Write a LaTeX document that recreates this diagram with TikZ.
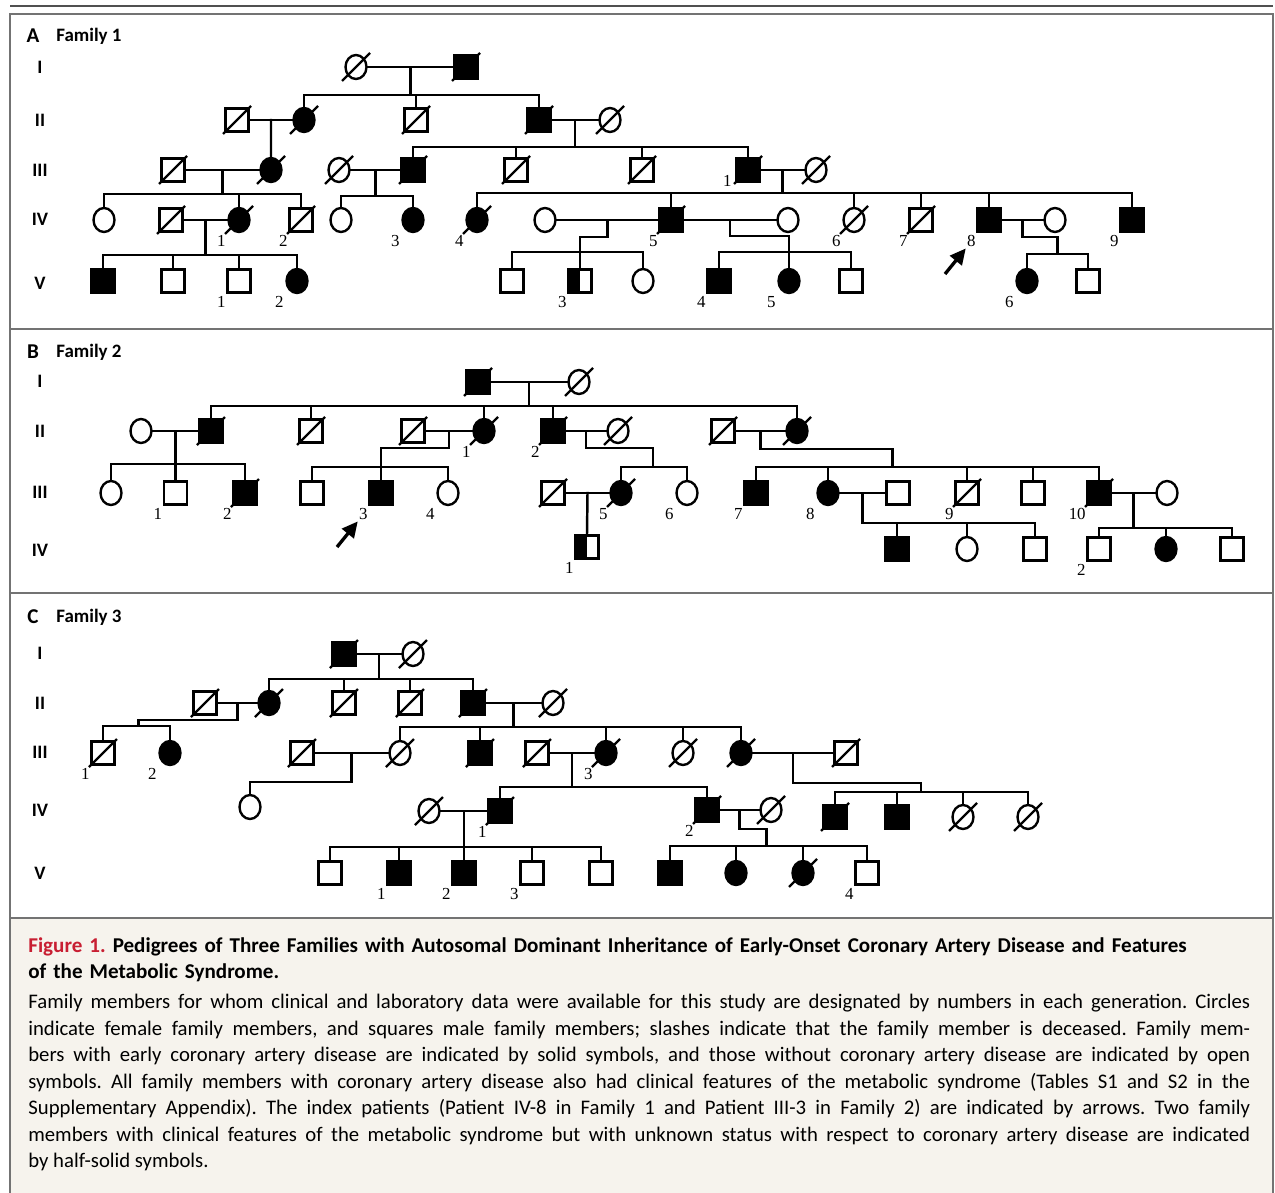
\documentclass[tikz,border=0pt]{standalone}
\usepackage{fontspec}
\setmainfont{Carlito}
\newfontfamily\numfont{Liberation Serif}
\usetikzlibrary{shapes.geometric, arrows.meta, calc}
\definecolor{figred}{RGB}{200, 30, 50}
\definecolor{capbg}{RGB}{246, 243, 237}
\definecolor{framegray}{RGB}{115, 115, 115}
\definecolor{rulegray}{RGB}{80, 80, 80}

\tikzset{
  person/.style={draw=black, line width=1.35pt, inner sep=0pt, fill=white},
  sq/.style={person, rectangle, minimum size=4.6mm},
  ci/.style={person, ellipse, minimum width=4.2mm, minimum height=4.8mm},
  aff/.style={fill=black},
  half/.style={path picture={\fill[black] (path picture bounding box.south west) rectangle (path picture bounding box.north);}},
  slash/.style={draw=black, line width=1.35pt},
  dec/.style={append after command={([shift={(-14,14)}]\tikzlastnode.center) edge[slash] ([shift={(14,-14)}]\tikzlastnode.center)}},
  link/.style={line width=1.4pt, line cap=rect},
  num/.style={font=\numfont\fontsize{9.6}{10}\selectfont, anchor=north east, inner sep=0pt},
  gen/.style={font=\bfseries\fontsize{10.8}{12}\selectfont, inner sep=0pt},
  panel/.style={font=\bfseries\fontsize{12}{13}\selectfont, inner sep=0pt},
  famname/.style={font=\bfseries\fontsize{10.8}{12}\selectfont, anchor=west, inner sep=0pt},
  panelframe/.style={draw=framegray, line width=1.1pt},
  pointer/.style={-{Triangle[length=9pt, width=8.5pt]}, line width=1.9pt, shorten >=1pt},
}

\begin{document}
\begin{tikzpicture}[x=0.02cm, y=-0.02cm]
\useasboundingbox (0,0) rectangle (1275,1193);

% frames
\draw[rulegray, line width=1.6pt] (10,6) -- (1273,6);
\draw[panelframe] (10,14) rectangle (1273,329);
\draw[panelframe] (10,329) rectangle (1273,593);
\draw[panelframe] (10,593) rectangle (1273,918);
\fill[capbg] (10,918) rectangle (1273,1193);
\draw[panelframe] (10,1193) -- (10,918) -- (1273,918) -- (1273,1193);

%%%%%%%%%%%%%%%% A  Family 1
\node[panel] (aTag) at (33,36) {A};
\node[famname] (aName) at (56,36) {Family 1};
\foreach \g/\y in {I/67,II/120,III/170,IV/219,V/283}
  \node[gen] (aG\g) at (40,\y) {\g};

% generation I
\node[ci,dec] (aI1) at (356,67) {};
\node[sq,aff,dec] (aI2) at (466,67) {};
% generation II
\node[sq,dec] (aII1) at (237,120) {};
\node[ci,aff,dec] (aII2) at (304,120) {};
\node[sq,dec] (aII3) at (416,120) {};
\node[sq,aff,dec] (aII4) at (539,120) {};
\node[ci,dec] (aII5) at (610,120) {};
% generation III
\node[sq,dec] (aIII1) at (173,170) {};
\node[ci,aff,dec] (aIII2) at (271,170) {};
\node[ci,dec] (aIII3) at (339,170) {};
\node[sq,aff,dec] (aIII4) at (413,170) {};
\node[sq,dec] (aIII5) at (516,170) {};
\node[sq,dec] (aIII6) at (642,170) {};
\node[sq,aff,dec] (aIII7) at (748,170) {};
\node[ci,dec] (aIII8) at (816,170) {};
% generation IV
\node[ci] (aIV1) at (104,220) {};
\node[sq,dec] (aIV2) at (171,220) {};
\node[ci,aff,dec] (aIV3) at (239,220) {};
\node[sq,dec] (aIV4) at (301,220) {};
\node[ci] (aIV5) at (341,220) {};
\node[ci,aff] (aIV6) at (413,220) {};
\node[ci,aff,dec] (aIV7) at (477,220) {};
\node[ci] (aIV8) at (545,220) {};
\node[sq,aff,dec] (aIV9) at (671,220) {};
\node[ci] (aIV10) at (788,220) {};
\node[ci,dec] (aIV11) at (854,220) {};
\node[sq,dec] (aIV12) at (921,220) {};
\node[sq,aff] (aIV13) at (989,220) {};
\node[ci] (aIV14) at (1055,220) {};
\node[sq,aff] (aIV15) at (1132,220) {};
% generation V
\node[sq,aff] (aV1) at (103,281) {};
\node[sq] (aV2) at (173,281) {};
\node[sq] (aV3) at (239,281) {};
\node[ci,aff] (aV4) at (297,281) {};
\node[sq] (aV5) at (512,281) {};
\node[sq,half] (aV6) at (580,281) {};
\node[ci] (aV7) at (643,281) {};
\node[sq,aff] (aV8) at (719,281) {};
\node[ci,aff] (aV9) at (789,281) {};
\node[sq] (aV10) at (851,281) {};
\node[ci,aff] (aV11) at (1027,281) {};
\node[sq] (aV12) at (1088,281) {};

% lines of descent
\draw[link] (aI1) -- coordinate (mA1) (aI2);
\draw[link] (mA1) -- ++(0,28) coordinate (sA1);
\draw[link] (aII2 |- sA1) -- (aII4 |- sA1);
\foreach \kid in {aII2,aII3,aII4} \draw[link] (\kid.north) -- (\kid |- sA1);

\draw[link] (aII1) -- coordinate (mA2) (aII2);
\draw[link] (mA2) -- (aIII2.north);

\draw[link] (aII4) -- coordinate (mA3) (aII5);
\draw[link] (mA3) -- ++(0,27) coordinate (sA3);
\draw[link] (aIII4 |- sA3) -- (aIII7 |- sA3);
\foreach \kid in {aIII4,aIII5,aIII6,aIII7} \draw[link] (\kid.north) -- (\kid |- sA3);

\draw[link] (aIII1) -- coordinate (mA4) (aIII2);
\draw[link] (mA4) -- ++(0,24) coordinate (sA4);
\draw[link] (aIV1 |- sA4) -- (aIV4 |- sA4);
\foreach \kid in {aIV1,aIV3,aIV4} \draw[link] (\kid.north) -- (\kid |- sA4);

\draw[link] (aIII3) -- coordinate (mA5) (aIII4);
\draw[link] (mA5) -- ++(0,26) coordinate (sA5);
\draw[link] (aIV5 |- sA5) -- (aIV6 |- sA5);
\foreach \kid in {aIV5,aIV6} \draw[link] (\kid.north) -- (\kid |- sA5);

\draw[link] (aIII7) -- coordinate (mA6) (aIII8);
\draw[link] (mA6) -- ++(0,23) coordinate (sA6);
\draw[link] (aIV7 |- sA6) -- (aIV15 |- sA6);
\foreach \kid in {aIV7,aIV9,aIV11,aIV12,aIV13,aIV15} \draw[link] (\kid.north) -- (\kid |- sA6);

\draw[link] (aIV2) -- coordinate (mA7) (aIV3);
\draw[link] (mA7) -- ++(0,35) coordinate (sA7);
\draw[link] (aV1 |- sA7) -- (aV4 |- sA7);
\foreach \kid in {aV1,aV2,aV3,aV4} \draw[link] (\kid.north) -- (\kid |- sA7);

\draw[link] (aIV8) -- coordinate (mA8) (aIV9);
\draw[link] (mA8) -- ++(0,17) -| (aV6.north);
\path (mA8) ++(0,32) coordinate (sA8);
\draw[link] (aV5 |- sA8) -- (aV7 |- sA8);
\foreach \kid in {aV5,aV7} \draw[link] (\kid.north) -- (\kid |- sA8);

\draw[link] (aIV9) -- coordinate (mA9) (aIV10);
\draw[link] (mA9) -- ++(0,16) -| (aV9.north);
\path (mA9) ++(0,32) coordinate (sA9);
\draw[link] (aV8 |- sA9) -- (aV10 |- sA9);
\foreach \kid in {aV8,aV10} \draw[link] (\kid.north) -- (\kid |- sA9);

\draw[link] (aIV13) -- coordinate (mA10) (aIV14);
\draw[link] (mA10) -- ++(0,17) -| ++(35,17) coordinate (sA10);
\draw[link] (aV11 |- sA10) -- (aV12 |- sA10);
\foreach \kid in {aV11,aV12} \draw[link] (\kid.north) -- (\kid |- sA10);

% numbers
\node[num] (aIII7-n) at ([shift={(-16,5)}]aIII7.center) {1};
\foreach \who/\lab in {aIV3/1,aIV4/2,aIV6/3,aIV7/4,aIV9/5,aIV11/6,aIV12/7,aIV13/8,aIV15/9,
                       aV3/1,aV4/2,aV6/3,aV8/4,aV9/5,aV11/6}
  \node[num] (\who-n) at ([shift={(-13,15)}]\who.center) {\lab};
% index patient
\coordinate (aArr) at (945,274);
\draw[pointer] (aArr) -- (aIV13-n.south west);

%%%%%%%%%%%%%%%% B  Family 2
\node[panel] (bTag) at (33,352) {B};
\node[famname] (bName) at (56,352) {Family 2};
\foreach \g/\y in {I/381,II/431,III/492,IV/550}
  \node[gen] (bG\g) at (40,\y) {\g};

% generation I
\node[sq,aff,dec] (bI1) at (478,382) {};
\node[ci,dec] (bI2) at (579,382) {};
% generation II
\node[ci] (bII1) at (141,431) {};
\node[sq,aff,dec] (bII2) at (211,431) {};
\node[sq,dec] (bII3) at (311,431) {};
\node[sq,dec] (bII4) at (413,431) {};
\node[ci,aff,dec] (bII5) at (484,431) {};
\node[sq,aff,dec] (bII6) at (553,431) {};
\node[ci,dec] (bII7) at (618,431) {};
\node[sq,dec] (bII8) at (723,431) {};
\node[ci,aff,dec] (bII9) at (797,431) {};
% generation III
\node[ci] (bIII1) at (111,493) {};
\node[sq] (bIII2) at (175.5,493) {};
\node[sq,aff,dec] (bIII3) at (245,493) {};
\node[sq] (bIII4) at (312,493) {};
\node[sq,aff] (bIII5) at (381,493) {};
\node[ci] (bIII6) at (448,493) {};
\node[sq,dec] (bIII7) at (553,493) {};
\node[ci,aff,dec] (bIII8) at (621,493) {};
\node[ci] (bIII9) at (687,493) {};
\node[sq,aff] (bIII10) at (756,493) {};
\node[ci,aff] (bIII11) at (828,493) {};
\node[sq] (bIII12) at (898,493) {};
\node[sq,dec] (bIII13) at (967,493) {};
\node[sq] (bIII14) at (1033,493) {};
\node[sq,aff,dec] (bIII15) at (1099,493) {};
\node[ci] (bIII16) at (1167,493) {};
% generation IV
\node[sq,half] (bIV1) at (587,547) {};
\node[sq,aff] (bIV2) at (897,549) {};
\node[ci] (bIV3) at (967,549) {};
\node[sq] (bIV4) at (1035,549) {};
\node[sq] (bIV5) at (1099,549) {};
\node[ci,aff] (bIV6) at (1166,549) {};
\node[sq] (bIV7) at (1232,549) {};

% lines of descent
\draw[link] (bI1) -- coordinate (mB1) (bI2);
\draw[link] (mB1) -- ++(0,24) coordinate (sB1);
\draw[link] (bII2 |- sB1) -- (bII9 |- sB1);
\foreach \kid in {bII2,bII3,bII5,bII6,bII9} \draw[link] (\kid.north) -- (\kid |- sB1);

\draw[link] (bII1) -- coordinate (mB2) (bII2);
\draw[link] (mB2) -- ++(0,33) coordinate (sB2);
\draw[link] (bIII1 |- sB2) -- (bIII3 |- sB2);
\foreach \kid in {bIII1,bIII2,bIII3} \draw[link] (\kid.north) -- (\kid |- sB2);

\draw[link] (bII4) -- coordinate (mB3) (bII5);
\draw[link] (mB3) -- ++(0,17) -| (bIII5.north);
\path (mB3) ++(0,36) coordinate (sB3);
\draw[link] (bIII4 |- sB3) -- (bIII6 |- sB3);
\foreach \kid in {bIII4,bIII6} \draw[link] (\kid.north) -- (\kid |- sB3);

\draw[link] (bII6) -- coordinate (mB4) (bII7);
\draw[link] (mB4) -- ++(0,17) -| ++(67,19) coordinate (sB4);
\draw[link] (bIII8 |- sB4) -- (bIII9 |- sB4);
\foreach \kid in {bIII8,bIII9} \draw[link] (\kid.north) -- (\kid |- sB4);

\draw[link] (bII8) -- coordinate (mB5) (bII9);
\draw[link] (mB5) -- ++(0,18) -| ++(132,18) coordinate (sB5);
\draw[link] (bIII10 |- sB5) -- (bIII15 |- sB5);
\foreach \kid in {bIII10,bIII11,bIII13,bIII14,bIII15} \draw[link] (\kid.north) -- (\kid |- sB5);

\draw[link] (bIII7) -- coordinate (mB6) (bIII8);
\draw[link] (mB6) -- (bIV1.north);

\draw[link] (bIII11) -- coordinate (mB7) (bIII12);
\draw[link] (mB7) -- ++(0,30) coordinate (sB7);
\draw[link] (sB7) -- (bIV4 |- sB7);
\foreach \kid in {bIV2,bIV3,bIV4} \draw[link] (\kid.north) -- (\kid |- sB7);

\draw[link] (bIII15) -- coordinate (mB8) (bIII16);
\draw[link] (mB8) -- ++(0,35) coordinate (sB8);
\draw[link] (bIV5 |- sB8) -- (bIV7 |- sB8);
\foreach \kid in {bIV5,bIV6,bIV7} \draw[link] (\kid.north) -- (\kid |- sB8);

% numbers
\foreach \who/\lab in {bII5/1,bII6/2,bIII2/1,bIII3/2,bIII5/3,bIII6/4,bIII8/5,bIII9/6,
                       bIII10/7,bIII11/8,bIII13/9,bIII15/10,bIV1/1,bIV5/2}
  \node[num] (\who-n) at ([shift={(-13,15)}]\who.center) {\lab};
% index patient
\coordinate (bArr) at (337,547);
\draw[pointer] (bArr) -- (bIII5-n.south west);

%%%%%%%%%%%%%%%% C  Family 3
\node[panel] (cTag) at (33,617) {C};
\node[famname] (cName) at (56,617) {Family 3};
\foreach \g/\y in {I/653,II/703,III/752,IV/810,V/873}
  \node[gen] (cG\g) at (40,\y) {\g};

% generation I
\node[sq,aff,dec] (cI1) at (344,654) {};
\node[ci,dec] (cI2) at (413,654) {};
% generation II
\node[sq,dec] (cII1) at (205,703) {};
\node[ci,aff,dec] (cII2) at (269,703) {};
\node[sq,dec] (cII3) at (344,703) {};
\node[sq,dec] (cII4) at (410,703) {};
\node[sq,aff,dec] (cII5) at (473,703) {};
\node[ci,dec] (cII6) at (553,703) {};
% generation III
\node[sq,dec] (cIII1) at (103,753) {};
\node[ci,aff] (cIII2) at (170,753) {};
\node[sq,dec] (cIII3) at (302,753) {};
\node[ci,dec] (cIII4) at (400,753) {};
\node[sq,aff,dec] (cIII5) at (480,753) {};
\node[sq,dec] (cIII6) at (537,753) {};
\node[ci,aff,dec] (cIII7) at (606,753) {};
\node[ci,dec] (cIII8) at (683,753) {};
\node[ci,aff,dec] (cIII9) at (741,753) {};
\node[sq,dec] (cIII10) at (846,753) {};
% generation IV
\node[ci] (cIV1) at (250,807) {};
\node[ci,dec] (cIV2) at (429,811) {};
\node[sq,aff,dec] (cIV3) at (500,811) {};
\node[sq,aff,dec] (cIV4) at (707,810) {};
\node[ci,dec] (cIV5) at (771,810) {};
\node[sq,aff,dec] (cIV6) at (835,817) {};
\node[sq,aff] (cIV7) at (897,817) {};
\node[ci,dec] (cIV8) at (963,817) {};
\node[ci,dec] (cIV9) at (1028,817) {};
% generation V
\node[sq] (cV1) at (330,873) {};
\node[sq,aff] (cV2) at (399,873) {};
\node[sq,aff] (cV3) at (464,873) {};
\node[sq] (cV4) at (532,873) {};
\node[sq] (cV5) at (601,873) {};
\node[sq,aff] (cV6) at (670,873) {};
\node[ci,aff] (cV7) at (736,873) {};
\node[ci,aff,dec] (cV8) at (803,873) {};
\node[sq] (cV9) at (867,873) {};

% lines of descent
\draw[link] (cI1) -- coordinate (mC1) (cI2);
\draw[link] (mC1) -- ++(0,25) coordinate (sC1);
\draw[link] (cII2 |- sC1) -- (cII5 |- sC1);
\foreach \kid in {cII2,cII3,cII4,cII5} \draw[link] (\kid.north) -- (\kid |- sC1);

\draw[link] (cII1) -- coordinate (mC2) (cII2);
\draw[link] (mC2) -- ++(0,17) -| ++(-99,6) coordinate (sC2);
\draw[link] (cIII1 |- sC2) -- (cIII2 |- sC2);
\foreach \kid in {cIII1,cIII2} \draw[link] (\kid.north) -- (\kid |- sC2);

\draw[link] (cII5) -- coordinate (mC3) (cII6);
\draw[link] (mC3) -- ++(0,24) coordinate (sC3);
\draw[link] (cIII4 |- sC3) -- (cIII9 |- sC3);
\foreach \kid in {cIII4,cIII5,cIII7,cIII8,cIII9} \draw[link] (\kid.north) -- (\kid |- sC3);

\draw[link] (cIII3) -- coordinate (mC4) (cIII4);
\draw[link] (mC4) -- ++(0,29) -| (cIV1.north);

\draw[link] (cIII6) -- coordinate (mC5) (cIII7);
\draw[link] (mC5) -- ++(0,34) coordinate (sC5);
\draw[link] (cIV3 |- sC5) -- (cIV4 |- sC5);
\foreach \kid in {cIV3,cIV4} \draw[link] (\kid.north) -- (\kid |- sC5);

\draw[link] (cIII9) -- coordinate (mC6) (cIII10);
\draw[link] (mC6) -- ++(0,30) -| ++(128,9) coordinate (sC6);
\draw[link] (cIV6 |- sC6) -- (cIV9 |- sC6);
\foreach \kid in {cIV6,cIV7,cIV8,cIV9} \draw[link] (\kid.north) -- (\kid |- sC6);

\draw[link] (cIV2) -- coordinate (mC7) (cIV3);
\draw[link] (mC7) -- ++(0,36) coordinate (sC7);
\draw[link] (cV1 |- sC7) -- (cV5 |- sC7);
\foreach \kid in {cV1,cV2,cV3,cV4,cV5} \draw[link] (\kid.north) -- (\kid |- sC7);

\draw[link] (cIV4) -- coordinate (mC8) (cIV5);
\draw[link] (mC8) -- ++(0,19) -| ++(27,17) coordinate (sC8);
\draw[link] (cV6 |- sC8) -- (cV9 |- sC8);
\foreach \kid in {cV6,cV7,cV8,cV9} \draw[link] (\kid.north) -- (\kid |- sC8);

% numbers
\foreach \who/\lab in {cIII1/1,cIII2/2,cIII7/3,cIV3/1,cIV4/2,cV2/1,cV3/2,cV4/3,cV9/4}
  \node[num] (\who-n) at ([shift={(-13,15)}]\who.center) {\lab};

%%%%%%%%%%%%%%%% caption
\node[anchor=north west, inner sep=0pt, text width=24.6cm, align=left,
      font=\frenchspacing\bfseries\fontsize{12}{14.8}\selectfont] (capTitle) at (28,937)
  {\textcolor{figred}{Figure 1.} Pedigrees of Three Families with Autosomal Dominant Inheritance of Early-Onset Coronary Artery Disease and Features\\
   of the Metabolic Syndrome.};
\node[anchor=north west, inner sep=0pt, text width=24.44cm, align=justify,
      font=\frenchspacing\fontsize{11.8}{15.1}\selectfont] (capBody) at (28,994)
  {Family members for whom clinical and laboratory data were available for this study are designated by numbers in each generation. Circles\linebreak
   indicate female family members, and squares male family members; slashes indicate that the family member is deceased. Family mem-\linebreak
   bers with early coronary artery disease are indicated by solid symbols, and those without coronary artery disease are indicated by open\linebreak
   symbols. All family members with coronary artery disease also had clinical features of the metabolic syndrome (Tables S1 and S2 in the\linebreak
   Supplementary Appendix). The index patients (Patient IV-8 in Family 1 and Patient III-3 in Family 2) are indicated by arrows. Two family\linebreak
   members with clinical features of the metabolic syndrome but with unknown status with respect to coronary artery disease are indicated\linebreak
   by half-solid symbols.};
\end{tikzpicture}
\end{document}
